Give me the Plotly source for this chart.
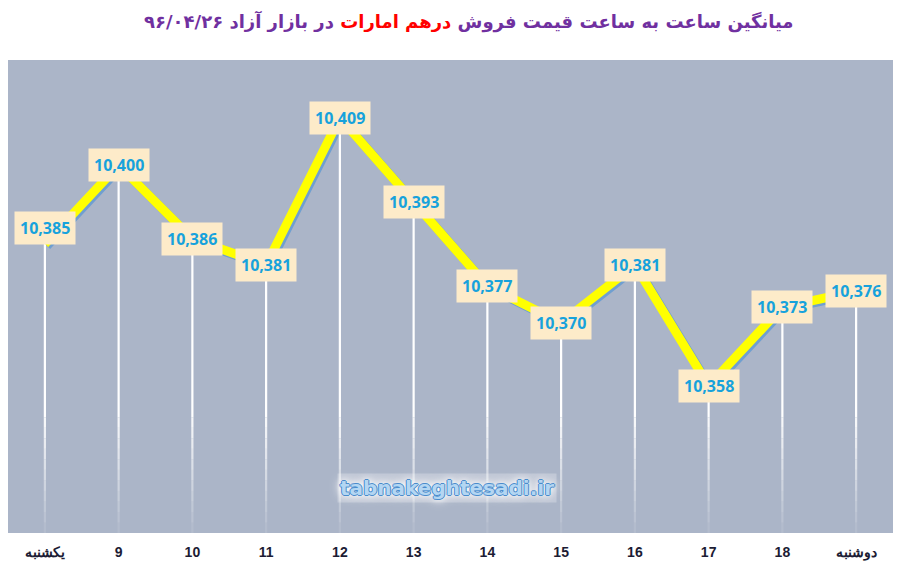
import plotly.graph_objects as go

# data
hours = ["یکشنبه", "9", "10", "11", "12", "13", "14", "15", "16", "17", "18", "دوشنبه"]
prices = [10385, 10400, 10386, 10381, 10409, 10393, 10377, 10370, 10381, 10358, 10373, 10376]
y_min, y_max = 10330, 10420

# the page body has an 8px margin, so the figure is a bit smaller than the window
W, H = 893, 560
off = 2  # shadow offset in px
ml, mr, mt, mb = 0, 6, 52, 33
pw, ph = W - ml - mr, H - mt - mb
x_dom_main = [0, (pw - off) / pw]
x_dom_shadow = [off / pw, 1]
y_dom_main = [off / ph, 1]
y_dom_shadow = [0, (ph - off) / ph]

idx = list(range(len(hours)))

fig = go.Figure()

# shadow of the line (drawn first, slightly offset)
fig.add_trace(go.Scatter(
    x=idx, y=prices, mode="lines", xaxis="x", yaxis="y",
    line=dict(color="#6f9fd0", width=9), hoverinfo="skip"
))

# drop lines: solid part, then fading steps toward the bottom
fade_top = 10352
fig.add_trace(go.Bar(
    x=idx, y=[p - fade_top for p in prices], base=fade_top, width=0.03,
    marker=dict(color="white", line=dict(width=0)),
    xaxis="x2", yaxis="y2", hoverinfo="skip"
))
steps = 11
step = (fade_top - y_min) / steps
for k in range(steps):
    hi = fade_top - k * step
    fig.add_trace(go.Bar(
        x=idx, y=[step] * len(idx), base=hi - step, width=0.03,
        marker=dict(color="white", line=dict(width=0)),
        opacity=0.9 - 0.8 * k / (steps - 1),
        xaxis="x2", yaxis="y2", hoverinfo="skip"
    ))

# main line
fig.add_trace(go.Scatter(
    x=idx, y=prices, mode="lines", xaxis="x2", yaxis="y2",
    line=dict(color="#ffff00", width=9)
))

# value labels
for i, v in zip(idx, prices):
    fig.add_annotation(
        x=i, y=v, xref="x2", yref="y2", text=f"<b>{v:,}</b>", showarrow=False,
        font=dict(family="Open Sans, sans-serif", size=16, color="#17a2dc", weight=700),
        bgcolor="#fdebc9", borderpad=5,
        yshift=16 if i == 0 else 0
    )

# watermark
fig.add_annotation(
    x=0.495, y=0.1, xref="paper", yref="paper", xanchor="center", yanchor="middle",
    text="<b>tabnakeghtesadi.ir</b>",
    showarrow=False, bgcolor="rgba(255,255,255,0.25)", borderpad=2,
    font=dict(family="DejaVu Sans, sans-serif", size=20, color="#b4d6f2",
              shadow="1px 0 0 #4a8ccc, -1px 0 0 #4a8ccc, 0 1px 0 #4a8ccc, 0 -1px 0 #4a8ccc, "
                     "0 0 6px #ffffff, 0 0 10px #ffffff, 0 0 14px #ffffff"),
)

fig.update_layout(
    width=W, height=H,
    margin=dict(l=ml, r=mr, t=mt, b=mb),
    paper_bgcolor="white", plot_bgcolor="rgba(0,0,0,0)",
    barmode="overlay", showlegend=False,
    title=dict(
        text="<b>میانگین ساعت به ساعت قیمت فروش <span style='color:#ff0000'>درهم امارات</span> در بازار آزاد ۹۶/۰۴/۲۶</b>",
        x=0.516, xanchor="center", y=0.975, yanchor="middle",
        font=dict(family="DejaVu Sans, sans-serif", size=18, color="#7030a0"),
    ),
    xaxis=dict(domain=x_dom_shadow, range=[-0.5, 11.5], visible=False, anchor="y"),
    yaxis=dict(domain=y_dom_shadow, range=[y_min, y_max], visible=False, anchor="x"),
    xaxis2=dict(
        domain=x_dom_main, range=[-0.5, 11.5], anchor="y2",
        tickmode="array", tickvals=idx, ticktext=[f"<b>{h}</b>" for h in hours],
        tickfont=dict(family="Liberation Sans Narrow, Liberation Sans, sans-serif", size=14, color="#1c1c34"),
        showgrid=False, zeroline=False, showline=False, ticks="", ticklabelstandoff=9,
    ),
    yaxis2=dict(domain=y_dom_main, range=[y_min, y_max], visible=False, anchor="x2"),
    shapes=[dict(
        type="rect", xref="paper", yref="paper", layer="below",
        x0=x_dom_main[0], x1=x_dom_main[1], y0=y_dom_main[0], y1=y_dom_main[1],
        fillcolor="#abb5c8", line=dict(width=0),
    )],
)

fig.write_html("out.html")
